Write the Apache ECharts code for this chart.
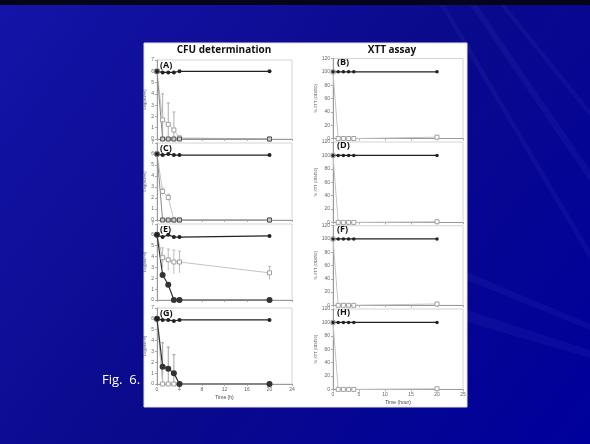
<!DOCTYPE html>
<html><head><meta charset="utf-8">
<script src="https://cdn.jsdelivr.net/npm/echarts@6/dist/echarts.min.js"></script>
<style>html,body{margin:0;padding:0;background:#00009c}#c{width:590px;height:444px}</style>
</head><body><div id="c"></div>
<script>
// ---- data ----
const timeCFU = [0, 1, 2, 3, 4, 20];
const timeXTT = [0, 1, 2, 3, 4, 20];
const cfuTicks = [0, 4, 8, 12, 16, 20, 24];
const xttTicks = [0, 5, 10, 15, 20, 25];
const panelLabelsLeft = ['(A)', '(C)', '(E)', '(G)'];
const panelLabelsRight = ['(B)', '(D)', '(F)', '(H)'];

const cfuA_ctrl = [6, 5.9, 5.9, 5.9, 6, 6];
const cfuA_t1   = [6, 0, 0, 0, 0, 0];
const cfuA_t2   = [6, 1.7, 1.3, 0.8, 0.1, 0];
const cfuA_t2err= [0, 2.3, 1.9, 1.6, 0, 0];

const cfuC_ctrl = [6, 5.9, 6, 5.9, 5.9, 5.9];
const cfuC_t1   = [6, 0, 0, 0, 0, 0];
const cfuC_t2   = [6, 2.6, 2.05, 0, 0, 0];
const cfuC_t2err= [0, 0.3, 0.3, 0, 0, 0];

const cfuE_ctrl = [6, 5.8, 6, 5.8, 5.8, 5.9];
const cfuE_t1   = [6, 2.3, 1.4, 0, 0, 0];
const cfuE_t2   = [6, 3.9, 3.7, 3.5, 3.5, 2.5];
const cfuE_t2err= [0, 0.9, 1.0, 1.1, 1.0, 0.6];

const cfuG_ctrl = [6, 5.9, 5.9, 5.8, 5.9, 5.9];
const cfuG_t1   = [6, 1.6, 1.4, 1.0, 0, 0];
const cfuG_t1err= [0, 2.2, 2.0, 1.7, 0, 0];
const cfuG_t2   = [6, 0, 0, 0, 0, 0];

const xttB_ctrl = [100, 100, 100, 100, 100, 100];
const xttB_t    = [100, 0, 0, 0, 0, 2];
const xttD_ctrl = [100, 100, 100, 100, 100, 100];
const xttD_t    = [100, 0, 0, 0, 0, 1];
const xttF_ctrl = [100, 100, 100, 100, 100, 100];
const xttF_t    = [100, 0, 0, 0, 0, 2];
const xttH_ctrl = [100, 100, 100, 100, 100, 100];
const xttH_t    = [100, 0, 0, 0, 0, 1];

// ---- layout ----
const leftTops = [60, 143, 224, 308], leftHeights = [79, 77, 76, 76];
const rightTops = [58.5, 142, 225.7, 309], rightHeights = [80, 80.4, 79.6, 80.4];
const LX = 157, LW = 135, RX = 333, RW = 130;

const zip = (xs, ys) => xs.map((x, i) => [x, ys[i]]);
const zip3 = (xs, ys, es) => xs.map((x, i) => [x, ys[i], es[i]]);

const grids = [], xAxes = [], yAxes = [], series = [];
const axisLine = {lineStyle: {color: '#9a9a9a', width: 1}};
const lab = {fontSize: 5, color: '#666', fontFamily: 'Liberation Sans', margin: 3};

for (let i = 0; i < 4; i++) {
  grids.push({left: LX, top: leftTops[i], width: LW, height: leftHeights[i], show: true, borderColor: '#d4d4d4', borderWidth: 1, backgroundColor: '#fff'});
}
for (let i = 0; i < 4; i++) {
  grids.push({left: RX, top: rightTops[i], width: RW, height: rightHeights[i], show: true, borderColor: '#d4d4d4', borderWidth: 1, backgroundColor: '#fff'});
}
for (let i = 0; i < 8; i++) {
  const left = i < 4;
  const bottom = (i === 3 || i === 7);
  xAxes.push({
    type: 'value', gridIndex: i, min: 0, max: left ? 24 : 25, interval: left ? 4 : 5,
    axisLine: axisLine, axisTick: {show: true, length: 2, lineStyle: {color: '#aaa'}},
    splitLine: {show: false},
    axisLabel: Object.assign({show: bottom}, lab, {margin: 3}),
    name: bottom ? (left ? 'Time (h)' : 'Time (hour)') : '',
    nameLocation: 'middle', nameGap: 11,
    nameTextStyle: {fontSize: 5, color: '#444', fontFamily: 'Liberation Sans'}
  });
  yAxes.push({
    type: 'value', gridIndex: i, min: 0, max: left ? 7 : 120, interval: left ? 1 : 20,
    axisLine: axisLine, axisTick: {show: true, length: 2, lineStyle: {color: '#aaa'}},
    splitLine: {show: false},
    axisLabel: Object.assign({}, lab),
    name: left ? 'Log(cfu/ml)' : '% XTT (OD450)',
    nameLocation: 'middle', nameRotate: 90, nameGap: left ? 9 : 13,
    nameTextStyle: {fontSize: 4, color: '#555', fontFamily: 'Liberation Sans'}
  });
}

function lineS(idx, data, opts) {
  series.push(Object.assign({
    type: 'line', xAxisIndex: idx, yAxisIndex: idx, data: data,
    symbol: 'circle', symbolSize: 4, showSymbol: true, silent: true, animation: false,
    lineStyle: {color: '#222', width: 1.2},
    itemStyle: {color: '#222'}
  }, opts));
}
function errS(idx, data, color) {
  series.push({
    type: 'custom', xAxisIndex: idx, yAxisIndex: idx, data: data, silent: true, animation: false,
    renderItem: function (params, api) {
      const x = api.value(0), y = api.value(1), e = api.value(2);
      if (!e) return null;
      const top = api.coord([x, y + e]);
      const bot = api.coord([x, Math.max(0, y - e)]);
      return {type: 'group', children: [
        {type: 'line', shape: {x1: top[0], y1: top[1], x2: bot[0], y2: bot[1]}, style: {stroke: color, lineWidth: 0.8}},
        {type: 'line', shape: {x1: top[0] - 1.5, y1: top[1], x2: top[0] + 1.5, y2: top[1]}, style: {stroke: color, lineWidth: 0.8}}
      ]};
    }
  });
}

const greyLine = {lineStyle: {color: '#c4c4c4', width: 1}, itemStyle: {color: '#fff', borderColor: '#a0a0a0', borderWidth: 1}, symbol: 'rect', symbolSize: 4};
const darkSq = {lineStyle: {color: '#888', width: 1}, itemStyle: {color: '#ccc', borderColor: '#555', borderWidth: 1}, symbol: 'rect', symbolSize: 4};

// A
lineS(0, zip(timeCFU, cfuA_t2), greyLine); errS(0, zip3(timeCFU, cfuA_t2, cfuA_t2err), '#999');
lineS(0, zip(timeCFU, cfuA_t1), darkSq);
lineS(0, zip(timeCFU, cfuA_ctrl), {});
// C
lineS(1, zip(timeCFU, cfuC_t2), greyLine); errS(1, zip3(timeCFU, cfuC_t2, cfuC_t2err), '#aaa');
lineS(1, zip(timeCFU, cfuC_t1), darkSq);
lineS(1, zip(timeCFU, cfuC_ctrl), {});
// E
lineS(2, zip(timeCFU, cfuE_t2), greyLine); errS(2, zip3(timeCFU, cfuE_t2, cfuE_t2err), '#aaa');
lineS(2, zip(timeCFU, cfuE_t1), {symbolSize: 6, lineStyle: {color: '#333', width: 1.2}, itemStyle: {color: '#333'}});
lineS(2, zip(timeCFU, cfuE_ctrl), {});
// G
lineS(3, zip(timeCFU, cfuG_t2), greyLine);
errS(3, zip3(timeCFU, cfuG_t1, cfuG_t1err), '#888');
lineS(3, zip(timeCFU, cfuG_t1), {symbolSize: 6, lineStyle: {color: '#333', width: 1.2}, itemStyle: {color: '#333'}});
lineS(3, zip(timeCFU, cfuG_ctrl), {});
// XTT
[[xttB_t, xttB_ctrl], [xttD_t, xttD_ctrl], [xttF_t, xttF_ctrl], [xttH_t, xttH_ctrl]].forEach((p, k) => {
  lineS(4 + k, zip(timeXTT, p[0]), greyLine);
  lineS(4 + k, zip(timeXTT, p[1]), {symbolSize: 3.5});
});

// ---- decoration ----
const graphics = [];
const streaks = [
  [[470, 5], [477, 5], [590, 170], [590, 182]],
  [[500, 5], [505, 5], [590, 110], [590, 117]],
  [[440, 5], [445, 5], [590, 250], [590, 260]],
  [[467, 310], [467, 322], [590, 358], [590, 350]],
  [[467, 272], [467, 280], [590, 330], [590, 324]]
];
streaks.forEach(p => graphics.push({type: 'polygon', shape: {points: p}, style: {fill: 'rgba(80,100,220,0.10)'}, z: -10, silent: true}));
graphics.push({type: 'rect', shape: {x: 0, y: 0, width: 590, height: 5}, style: {fill: '#05051a'}, z: -9, silent: true});
graphics.push({type: 'rect', shape: {x: 144, y: 43, width: 323, height: 364}, style: {fill: '#ffffff', stroke: '#e0e0e0', lineWidth: 1}, z: -8, silent: true});
graphics.push({type: 'text', x: 224, y: 45, style: {text: 'CFU determination', fill: '#111', font: 'bold 10px "Open Sans"', textAlign: 'center', textVerticalAlign: 'top'}, silent: true});
graphics.push({type: 'text', x: 392, y: 45, style: {text: 'XTT assay', fill: '#111', font: 'bold 10px "Open Sans"', textAlign: 'center', textVerticalAlign: 'top'}, silent: true});
graphics.push({type: 'text', x: 102, y: 374, style: {text: 'Fig.  6.', fill: '#ffffff', font: '13px "Open Sans"', textVerticalAlign: 'top'}, silent: true});
for (let i = 0; i < 4; i++) {
  graphics.push({type: 'text', x: 160, y: leftTops[i] + 1, style: {text: panelLabelsLeft[i], fill: '#111', font: 'bold 9px "Open Sans"', textVerticalAlign: 'top'}, silent: true});
  graphics.push({type: 'text', x: 337, y: rightTops[i] - 1, style: {text: panelLabelsRight[i], fill: '#111', font: 'bold 9px "Open Sans"', textVerticalAlign: 'top'}, silent: true});
}

const chart = echarts.init(document.getElementById('c'), null, {renderer: 'canvas'});
chart.setOption({
  animation: false,
  backgroundColor: {type: 'linear', x: 0, y: 0, x2: 1, y2: 1, colorStops: [
    {offset: 0, color: '#1414a8'}, {offset: 0.5, color: '#0a0a8c'}, {offset: 1, color: '#00009c'}]},
  grid: grids, xAxis: xAxes, yAxis: yAxes, series: series, graphic: graphics
});
</script></body></html>
